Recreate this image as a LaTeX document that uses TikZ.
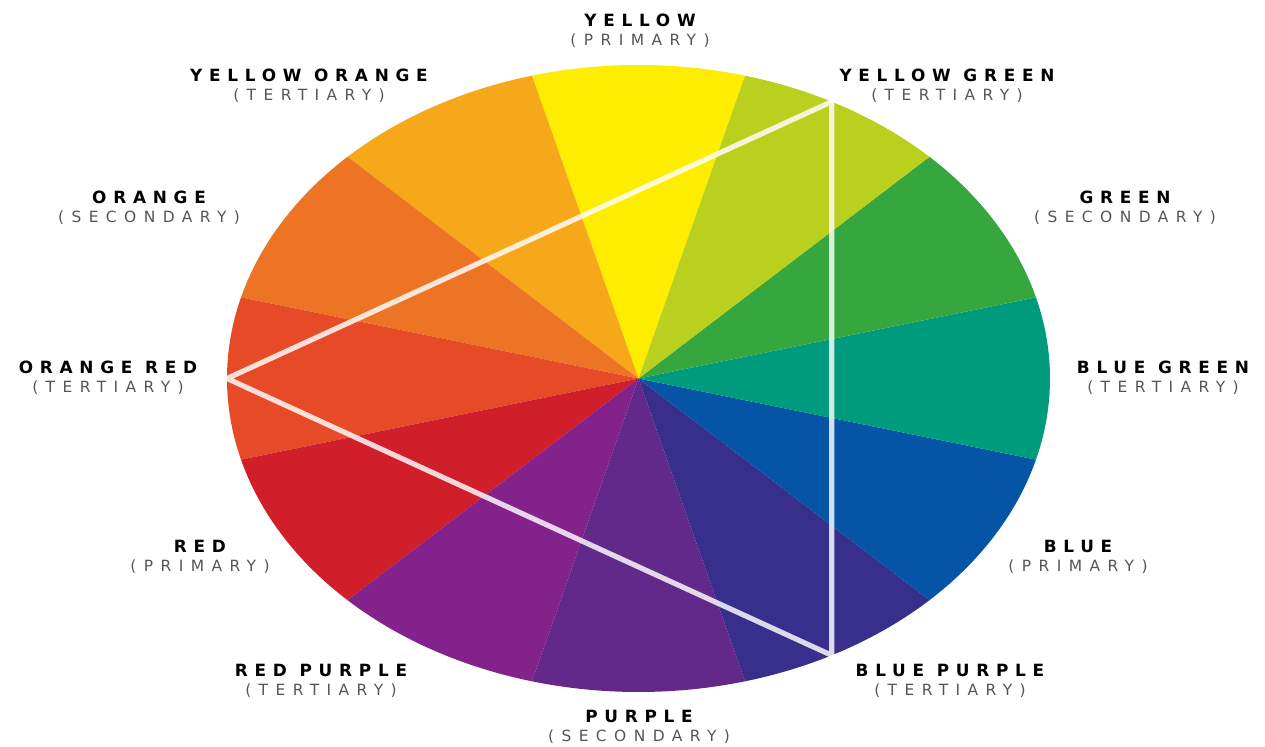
\documentclass[tikz,border=0pt]{standalone}
\usepackage{fontspec}
\usepackage{tikz}
\newfontfamily\cwnamefamily[LetterSpace=40]{DejaVu Sans}
\newfontfamily\cwsubfamily[LetterSpace=48]{DejaVu Sans}
\definecolor{cwyellow}{RGB}{255,237,0}
\definecolor{cwyelloworange}{RGB}{247,168,26}
\definecolor{cworange}{RGB}{236,116,36}
\definecolor{cworangered}{RGB}{230,74,38}
\definecolor{cwred}{RGB}{208,30,42}
\definecolor{cwredpurple}{RGB}{132,34,140}
\definecolor{cwpurple}{RGB}{98,40,138}
\definecolor{cwbluepurple}{RGB}{56,46,140}
\definecolor{cwblue}{RGB}{5,84,166}
\definecolor{cwbluegreen}{RGB}{0,154,124}
\definecolor{cwgreen}{RGB}{54,166,62}
\definecolor{cwyellowgreen}{RGB}{186,208,30}
\definecolor{cwgray}{RGB}{85,85,85}
\newcommand{\cwname}{\cwnamefamily\bfseries\fontsize{12}{13.5}\selectfont}
\newcommand{\cwsub}{\cwsubfamily\fontsize{11}{13.5}\selectfont\color{cwgray}}
\newcommand{\cwlabel}[2]{{\cwname #1}\\{\cwsub #2}}
\tikzset{
  wlabel/.style={align=center, inner sep=0pt, font=\fontsize{12}{13.5}\selectfont},
  triad/.style={line width=1.3mm, white, opacity=0.82, line join=miter},
}

\begin{document}
\begin{tikzpicture}[x=0.25mm, y=0.25mm]
  \useasboundingbox (0,0) rectangle (1265,747);
  \coordinate (ctr) at (638.5,368.5);
  \foreach \a/\c in {75/cwyellow, 105/cwyelloworange, 135/cworange,
      165/cworangered, 195/cwred, 225/cwredpurple, 255/cwpurple,
      285/cwbluepurple, 315/cwblue, 345/cwbluegreen, 15/cwgreen, 45/cwyellowgreen}
    \fill[\c] (ctr) -- ++(\a:411.5 and 313.5)
      arc[start angle=\a, end angle=\a+30, x radius=411.5, y radius=313.5] -- cycle;
  \path (ctr) ++(180:411.5 and 313.5) coordinate (orv);
  \path (ctr) ++(62:411.5 and 313.5) coordinate (ygv);
  \path (ctr) ++(-62:411.5 and 313.5) coordinate (bpv);
  \draw[triad] (orv) -- (ygv) -- (bpv) -- cycle;

  \node[wlabel] (yl) at (640,716) {\cwlabel{YELLOW}{(PRIMARY)}};
  \node[wlabel] (yol) at (309,661.5) {\cwlabel{YELLOW ORANGE}{(TERTIARY)}};
  \node[wlabel] (ygl) at (947,661.5) {\cwlabel{YELLOW GREEN}{(TERTIARY)}};
  \node[wlabel] (ol) at (149,539.5) {\cwlabel{ORANGE}{(SECONDARY)}};
  \node[wlabel] (gl) at (1125,539.5) {\cwlabel{GREEN}{(SECONDARY)}};
  \node[wlabel] (orl) at (108,369) {\cwlabel{ORANGE RED}{(TERTIARY)}};
  \node[wlabel] (bgl) at (1163,369.5) {\cwlabel{BLUE GREEN}{(TERTIARY)}};
  \node[wlabel] (rl) at (200,190) {\cwlabel{RED}{(PRIMARY)}};
  \node[wlabel] (bl) at (1078,190) {\cwlabel{BLUE}{(PRIMARY)}};
  \node[wlabel] (rpl) at (321,66) {\cwlabel{RED PURPLE}{(TERTIARY)}};
  \node[wlabel] (bpl) at (950,66) {\cwlabel{BLUE PURPLE}{(TERTIARY)}};
  \node[wlabel] (pl) at (639,20) {\cwlabel{PURPLE}{(SECONDARY)}};
\end{tikzpicture}
\end{document}
